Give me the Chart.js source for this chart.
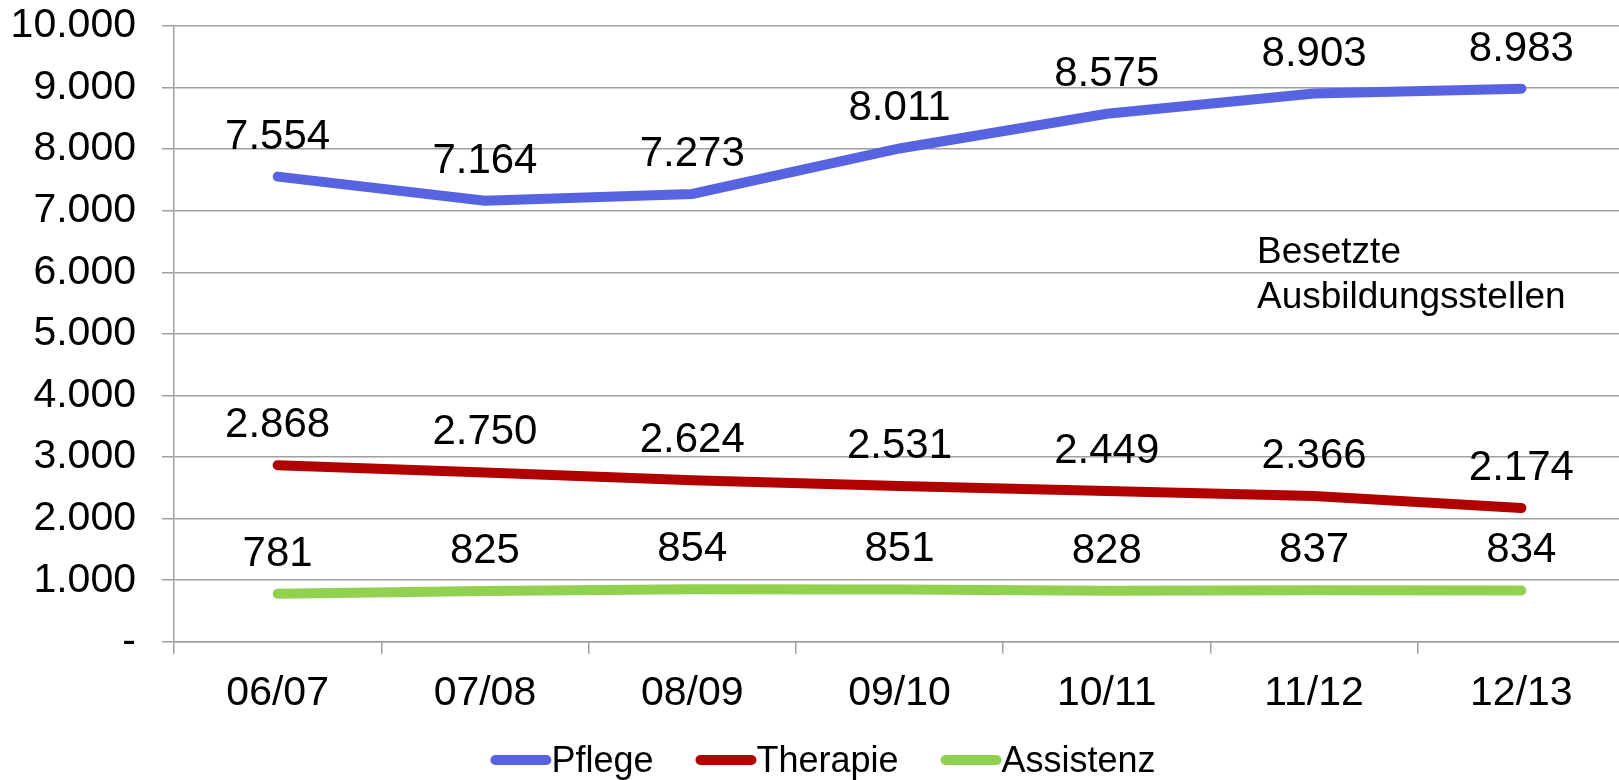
<!DOCTYPE html>
<html>
<head>
<meta charset="utf-8">
<script src="https://cdn.jsdelivr.net/npm/chart.js@4/dist/chart.umd.min.js"></script>
<style>
  html, body { margin: 0; padding: 0; background: #fff; overflow: hidden; }
  #wrap { position: relative; width: 1625px; height: 780px; }
</style>
</head>
<body>
<div id="wrap"><canvas id="chart"></canvas></div>
<script>
// school years
const years = ['06/07', '07/08', '08/09', '09/10', '10/11', '11/12', '12/13'];

// occupied training places per field
const pflege = [7554, 7164, 7273, 8011, 8575, 8903, 8983];
const therapie = [2868, 2750, 2624, 2531, 2449, 2366, 2174];
const assistenz = [781, 825, 854, 851, 828, 837, 834];

const seriesNames = ['Pflege', 'Therapie', 'Assistenz'];
const seriesColors = ['#5863e2', '#b00000', '#92d050'];
const noteLines = ['Besetzte', 'Ausbildungsstellen'];

const FONT = '"Liberation Sans", Arial, sans-serif';
const gridColor = '#a0a0a0';

// 7554 -> "7.554"
function fmt(v) {
    return String(v).replace(/\B(?=(\d{3})+(?!\d))/g, '.');
}

// value labels above each point
const valueLabels = {
    id: 'valueLabels',
    afterDatasetsDraw(chart) {
        const { ctx } = chart;
        ctx.save();
        ctx.font = '42px ' + FONT;
        ctx.fillStyle = '#000';
        ctx.textAlign = 'center';
        ctx.textBaseline = 'alphabetic';
        chart.data.datasets.forEach((ds, i) => {
            chart.getDatasetMeta(i).data.forEach((pt, j) => {
                ctx.fillText(fmt(ds.data[j]), pt.x, pt.y - 28);
            });
        });
        ctx.restore();
    }
};

// legend at the bottom, line sample directly followed by text
const bottomLegend = {
    id: 'bottomLegend',
    afterDraw(chart) {
        const { ctx } = chart;
        ctx.save();
        ctx.font = '36px ' + FONT;
        const sample = 61, gap = 42, y = 760;
        const items = chart.data.datasets.map(ds => ({
            label: ds.label, color: ds.borderColor, w: sample + ctx.measureText(ds.label).width
        }));
        const total = items.reduce((s, it) => s + it.w, 0) + gap * (items.length - 1);
        let x = 823 - total / 2;
        items.forEach(it => {
            ctx.strokeStyle = it.color;
            ctx.lineWidth = 10;
            ctx.lineCap = 'round';
            ctx.beginPath();
            ctx.moveTo(x + 5, y);
            ctx.lineTo(x + sample - 5, y);
            ctx.stroke();
            ctx.fillStyle = '#000';
            ctx.textAlign = 'left';
            ctx.textBaseline = 'alphabetic';
            ctx.fillText(it.label, x + sample, y + 12);
            x += it.w + gap;
        });
        ctx.restore();
    }
};

// text note in the upper right of the plot
const note = {
    id: 'note',
    afterDraw(chart) {
        const { ctx } = chart;
        ctx.save();
        ctx.font = '37px ' + FONT;
        ctx.fillStyle = '#000';
        ctx.textAlign = 'left';
        noteLines.forEach((t, i) => ctx.fillText(t, 1257, 263 + i * 45));
        ctx.restore();
    }
};

const allSeries = [pflege, therapie, assistenz];

new Chart(document.getElementById('chart'), {
    type: 'line',
    data: {
        labels: years,
        datasets: allSeries.map((d, i) => ({
            label: seriesNames[i],
            data: d,
            borderColor: seriesColors[i],
            backgroundColor: seriesColors[i],
            borderWidth: 10,
            borderCapStyle: 'round',
            pointRadius: 0,
            tension: 0,
            fill: false
        }))
    },
    options: {
        responsive: true,
        maintainAspectRatio: false,
        animation: false,
        layout: { padding: { left: 10, top: 0, right: 0, bottom: 47 } },
        plugins: {
            legend: { display: false },
            tooltip: { enabled: false }
        },
        scales: {
            x: {
                offset: true,
                grid: {
                    offset: true,
                    drawOnChartArea: false,
                    drawTicks: true,
                    tickLength: 12,
                    color: gridColor,
                    lineWidth: 1.5
                },
                border: { display: true, color: gridColor, width: 1.5 },
                ticks: {
                    color: '#000',
                    font: { family: FONT, size: 41 },
                    padding: 15,
                    maxRotation: 0,
                    autoSkip: false
                }
            },
            y: {
                min: 0,
                max: 10000,
                grid: {
                    color: gridColor,
                    lineWidth: 1.5,
                    drawTicks: true,
                    tickLength: 12
                },
                border: { display: true, color: gridColor, width: 1.5 },
                ticks: {
                    stepSize: 1000,
                    color: '#000',
                    font: { family: FONT, size: 41 },
                    padding: 26,
                    callback: v => v === 0 ? '-' : fmt(v)
                },
                afterFit(scale) {
                    // axis box: labels + padding + tick marks
                    scale.width = 164;
                    scale.paddingTop = 26;
                    scale.paddingBottom = 0;
                }
            }
        }
    },
    plugins: [valueLabels, bottomLegend, note]
});
</script>
</body>
</html>
